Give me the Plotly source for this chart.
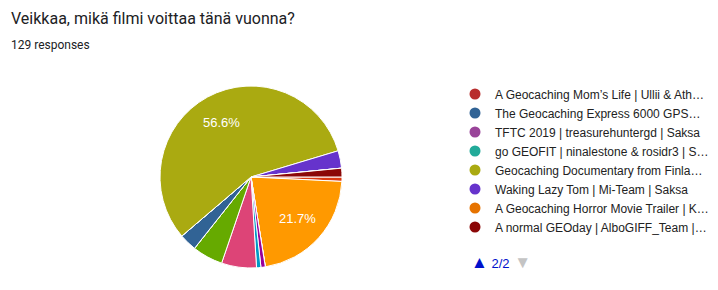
import math
import plotly.graph_objects as go

title_text = "Veikkaa, mikä filmi voittaa tänä vuonna?"
subtitle_text = "129 responses"

# All 16 options (page 1 of the legend is not visible in the reference)
labels = [
    "Vaihtoehto 1", "Vaihtoehto 2", "Vaihtoehto 3", "Vaihtoehto 4",
    "Vaihtoehto 5", "Vaihtoehto 6", "Vaihtoehto 7", "Vaihtoehto 8",
    "A Geocaching Mom’s Life | Ullii & Ath…",
    "The Geocaching Express 6000 GPS…",
    "TFTC 2019 | treasurehuntergd | Saksa",
    "go GEOFIT | ninalestone & rosidr3 | S…",
    "Geocaching Documentary from Finla…",
    "Waking Lazy Tom | Mi-Team | Saksa",
    "A Geocaching Horror Movie Trailer | K…",
    "A normal GEOday | AlboGIFF_Team |…",
]
counts = [0, 1, 28, 0, 1, 1, 8, 7, 0, 4, 0, 0, 73, 4, 0, 2]
colors = [
    "#3366cc", "#dc3912", "#ff9900", "#109618", "#990099", "#0099c6",
    "#dd4477", "#66aa00", "#b82e2e", "#316395", "#994499", "#22aa99",
    "#aaaa11", "#6633cc", "#e67300", "#8b0707",
]
legend_page_start = 8  # legend shows page 2/2

W, H = 718, 290
start_angle = 90  # degrees clockwise from 12 o'clock
pie_x = [160 / W, 342 / W]
pie_y = [(H - 268) / H, (H - 86) / H]

total = sum(counts)

fig = go.Figure()
fig.add_trace(go.Pie(
    labels=labels,
    values=counts,
    textinfo="none",
    marker=dict(colors=colors, line=dict(color="white", width=1)),
    sort=False,
    direction="clockwise",
    rotation=start_angle,
    showlegend=False,
    domain=dict(x=pie_x, y=pie_y),
))

# percentage labels for large slices, placed along each slice's mid-angle
cx = (pie_x[0] + pie_x[1]) / 2 * W
cy = H - (pie_y[0] + pie_y[1]) / 2 * H
r = min((pie_x[1] - pie_x[0]) * W, (pie_y[1] - pie_y[0]) * H) / 2
annotations = []
cum = 0
for c in counts:
    frac = c / total
    if frac >= 0.1:
        mid = math.radians(start_angle + (cum + c / 2) / total * 360)
        px = cx + 0.68 * r * math.sin(mid)
        py = cy - 0.68 * r * math.cos(mid)
        annotations.append(dict(
            text=f"{frac * 100:.1f}%", x=px / W, y=1 - py / H, xref="paper", yref="paper",
            xanchor="center", yanchor="middle", showarrow=False,
            font=dict(family="Arial", size=13, color="white")))
    cum += c

for lab, col in zip(labels[legend_page_start:], colors[legend_page_start:]):
    fig.add_trace(go.Scatter(
        x=[None], y=[None], mode="markers", name=lab,
        marker=dict(color=col, size=11, symbol="circle"),
        showlegend=True,
    ))

annotations += [
    dict(text=title_text, x=9 / W, y=1 - 18 / H, xref="paper", yref="paper",
         xanchor="left", yanchor="middle", showarrow=False,
         font=dict(family="Roboto", size=16, color="#202124")),
    dict(text=subtitle_text, x=9 / W, y=1 - 45 / H, xref="paper", yref="paper",
         xanchor="left", yanchor="middle", showarrow=False,
         font=dict(family="Roboto", size=12, color="#202124")),
    dict(text="<span style='color:#0011cc;font-size:17px'>▲</span> "
              "<span style='color:#0011cc'>2/2</span>"
              "<span style='color:#c4c4c4;font-size:17px'> ▼</span>",
         x=469 / W, y=1 - 262 / H, xref="paper", yref="paper",
         xanchor="left", yanchor="middle", showarrow=False,
         font=dict(family="Arial", size=13, color="#0011cc")),
]

fig.update_layout(
    width=W, height=H,
    margin=dict(l=0, r=0, t=0, b=0),
    paper_bgcolor="white", plot_bgcolor="white",
    xaxis=dict(visible=False), yaxis=dict(visible=False),
    legend=dict(
        x=455 / W, y=1 - 79.5 / H, xanchor="left", yanchor="top",
        font=dict(family="Arial", size=12, color="#222222"),
        tracegroupgap=0, itemwidth=30, bgcolor="rgba(0,0,0,0)",
    ),
    annotations=annotations,
)

fig.write_html("out.html")
